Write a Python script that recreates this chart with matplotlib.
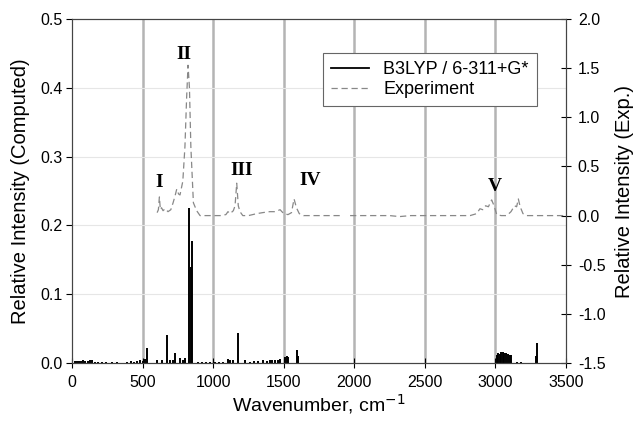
import numpy as np
import matplotlib.pyplot as plt

plt.rcParams['font.family'] = ['Liberation Sans', 'DejaVu Sans']

# computed stick spectrum (left axis)
calc_x = [20, 35, 50, 65, 80, 95, 110, 125, 140, 160, 185, 210, 240, 280, 320,
          390, 420, 440, 460, 480, 500, 520, 533, 605, 635, 671, 694, 715, 730,
          765, 785, 800, 831, 840, 848, 893, 920, 950, 977, 1010, 1040, 1070,
          1105, 1120, 1140, 1176, 1226, 1260, 1290, 1320, 1350, 1380, 1400,
          1420, 1440, 1460, 1474, 1509, 1520, 1531, 1594, 1602,
          3010, 3020, 3030, 3040, 3050, 3060, 3075, 3090, 3100, 3110, 3150,
          3180, 3285, 3297]
calc_y = [0.003, 0.003, 0.003, 0.003, 0.004, 0.003, 0.003, 0.005, 0.004, 0.002,
          0.002, 0.002, 0.002, 0.002, 0.002, 0.002, 0.003, 0.002, 0.003, 0.004,
          0.003, 0.006, 0.022, 0.005, 0.005, 0.040, 0.005, 0.004, 0.014,
          0.007, 0.004, 0.007, 0.226, 0.140, 0.177, 0.002, 0.002, 0.002, 0.002,
          0.002, 0.002, 0.002, 0.006, 0.004, 0.005, 0.043, 0.005, 0.002,
          0.003, 0.003, 0.004, 0.003, 0.004, 0.004, 0.005, 0.004, 0.006,
          0.008, 0.010, 0.009, 0.019, 0.010,
          0.011, 0.014, 0.013, 0.016, 0.016, 0.014, 0.014, 0.013, 0.012, 0.012,
          0.002, 0.002, 0.010, 0.029]

# experimental spectrum (right axis)
exp_x = [603, 612, 619, 626, 634, 645, 660, 680, 700, 716, 730, 742, 755, 765,
         785, 800, 812, 822, 832, 842, 860, 883, 907, 950, 1000, 1050, 1090,
         1105, 1120, 1143, 1155, 1167, 1178, 1190, 1210, 1250, 1309, 1350, 1400,
         1440, 1474, 1500, 1530, 1555, 1573, 1590, 1610, 1640, 1700, 1800, 1899,
         1935, 1970, 2100, 2250, 2320, 2400, 2550, 2700, 2820, 2867, 2890,
         2910, 2930, 2950, 2973, 2990, 3009, 3040, 3080, 3110, 3135, 3150,
         3162, 3175, 3195, 3222, 3300, 3400, 3500]
exp_y = [0.03, 0.06, 0.19, 0.06, 0.08, 0.05, 0.07, 0.04, 0.06, 0.13, 0.20, 0.27,
         0.22, 0.21, 0.35, 0.70, 1.20, 1.53, 1.30, 0.70, 0.13, 0.05, 0.00, 0.00,
         0.00, 0.00, 0.01, 0.04, 0.02, 0.05, 0.10, 0.33, 0.10, 0.04, 0.00, 0.00,
         0.02, 0.03, 0.04, 0.04, 0.06, 0.02, 0.01, 0.03, 0.17, 0.08, 0.02, 0.00,
         0.00, 0.00, 0.00, np.nan, 0.00, 0.00, 0.00, -0.01, 0.00, 0.00, 0.00,
         0.00, 0.02, 0.07, 0.06, 0.10, 0.09, 0.16, 0.10, 0.01, 0.00, 0.00,
         0.04, 0.10, 0.09, 0.17, 0.09, 0.02, 0.00, 0.00, 0.00, 0.00]

# peak labels
lab_text = ['I', 'II', 'III', 'IV', 'V']
lab_x = [618, 795, 1203, 1686, 2997]
lab_y = [0.262, 0.448, 0.280, 0.266, 0.256]

fig = plt.figure(figsize=(6.35, 4.24), dpi=100)
ax = fig.add_axes([0.1134, 0.1439, 0.7780, 0.8111])
ax2 = ax.twinx()

for xv in [500, 1000, 1500, 2000, 2500, 3000]:
    ax.axvline(xv, color='#b4b4b4', lw=1.8, zorder=0)
for yv in [0.1, 0.2, 0.3, 0.4]:
    ax.axhline(yv, color='#e6e6e6', lw=0.8, zorder=0)

ax.vlines(calc_x, 0, calc_y, color='black', lw=1.4)
ax.plot([], [], color='black', lw=1.3, label='B3LYP / 6-311+G*')
ax.plot([], [], color='#888888', lw=0.9, ls=(0, (5, 3)), label='Experiment')
ax2.plot(exp_x, exp_y, color='#888888', lw=0.9, ls=(0, (5, 3)))

for t, xv, yv in zip(lab_text, lab_x, lab_y):
    ax.text(xv, yv, t, ha='center', va='center', fontsize=14,
            fontweight='bold', family='Liberation Serif')

ax.set_xlim(0, 3500)
ax.set_ylim(0, 0.5)
ax2.set_ylim(-1.5, 2.0)
ax.set_xticks(range(0, 3501, 500))
ax.set_yticks([0.0, 0.1, 0.2, 0.3, 0.4, 0.5])
ax.set_yticklabels(['0.0', '0.1', '0.2', '0.3', '0.4', '0.5'])
ax2.set_yticks([-1.5, -1.0, -0.5, 0.0, 0.5, 1.0, 1.5, 2.0])
ax2.set_yticklabels(['-1.5', '-1.0', '-0.5', '0.0', '0.5', '1.0', '1.5', '2.0'])

ax.tick_params(axis='y', direction='out', length=4, labelsize=11.5, pad=3)
ax.tick_params(axis='x', direction='inout', length=7, labelsize=11.5, pad=5)
ax2.tick_params(axis='y', direction='inout', length=7, labelsize=11.5, pad=5)
for a in (ax, ax2):
    for s in a.spines.values():
        s.set_color('#444444')

ax.set_xlabel('Wavenumber, cm$^{-1}$', fontsize=14, labelpad=2)
ax.set_ylabel('Relative Intensity (Computed)', fontsize=14.5, labelpad=7)
ax2.set_ylabel('Relative Intensity (Exp.)', fontsize=14.5, labelpad=7)

leg = ax.legend(loc='upper right', bbox_to_anchor=(0.941, 0.901), fontsize=13,
                fancybox=False, framealpha=1, edgecolor='#666666',
                handlelength=2.1, handletextpad=0.8, borderpad=0.45,
                labelspacing=0.15, borderaxespad=0)
leg.get_frame().set_linewidth(0.8)

plt.savefig('out.png', dpi=100)
